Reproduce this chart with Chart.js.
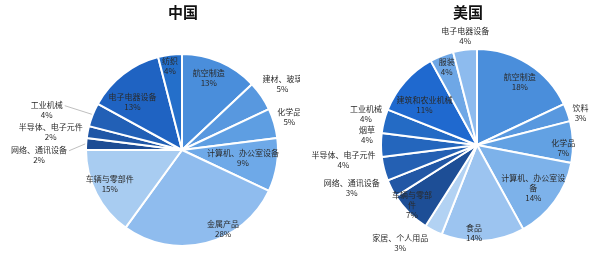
<!DOCTYPE html>
<html><head><meta charset="utf-8">
<script src="https://cdn.jsdelivr.net/npm/chart.js@4.4.0/dist/chart.umd.min.js"></script>
<style>
html,body{margin:0;padding:0;background:#fff;width:600px;height:256px;overflow:hidden;}
canvas{position:absolute;top:0;}
#c1{left:0;} #c2{left:300px;}
</style></head><body>
<canvas id="c1" width="300" height="256"></canvas>
<canvas id="c2" width="300" height="256"></canvas>
<script>
// ---- data ----
const cnTitle = "中国";
const cnCategories = ["航空制造","建材、玻璃","化学品","计算机、办公室设备","金属产品","车辆与零部件","网络、通讯设备","半导体、电子元件","工业机械","电子电器设备","纺织"];
const cnValues = [13,5,5,9,28,15,2,2,4,13,4];

const usTitle = "美国";
const usCategories = ["航空制造","饮料","化学品","计算机、办公室设备","食品","家居、个人用品","车辆与零部件","网络、通讯设备","半导体、电子元件","烟草","工业机械","建筑和农业机械","服装","电子电器设备"];
const usValues = [18,3,7,14,14,3,7,3,4,4,4,11,4,4];

// ---- styles / layout (not data) ----
const cnColors = ["#4a8edb","#5898df","#5e9ee2","#6ea9e8","#8fbcee","#a8ccf1","#1d4c94","#1f56a6","#2260b6","#1f63c2","#246fca"];
const usColors = ["#4a8edb","#5898df","#62a1e3","#7db2ea","#9cc4f0","#b2d2f3","#1d4e96","#2257a5","#2460b3","#2466bd","#246bc5","#1f69cf","#6ea7e6","#8dbbee"];
// [angle offset (deg), radius factor, chars per line, leader line]
const cnLabelPos = [[-3,0.80,0,0],[1,1.25,0,0],[-1,1.17,0,0],[-1.5,0.64,0,0],[-13,0.93,0,0],[2,0.83,0,0],[-5.5,1.49,0,1],[-3,1.38,0,0],[-5,1.47,0,1],[-8,0.72,0,0],[-1,0.88,0,0]];
const usLabelPos = [[2,0.79,0,0],[2.5,1.13,0,0],[4,0.9,0,0],[1.5,0.74,8,0],[5.5,0.92,0,0],[11,1.3,0,0],[2.5,0.92,5,0],[8,1.38,0,0],[8,1.4,0,0],[5,1.15,0,0],[1,1.2,0,0],[-4,0.69,0,0],[0.3,0.87,0,0],[1,1.14,0,0]];

const FONT = '"Noto Sans CJK SC","Noto Sans",sans-serif';

function labelPlugin(cats, pos, title, titleX){
  return {
    id:'lbl',
    afterDatasetsDraw(chart){
      const ctx = chart.ctx;
      const meta = chart.getDatasetMeta(0);
      const vals = chart.data.datasets[0].data;
      ctx.save();
      ctx.font = 'bold 15px ' + FONT;
      ctx.fillStyle = '#111';
      ctx.textAlign = 'center'; ctx.textBaseline = 'middle';
      ctx.fillText(title, titleX, 12);
      ctx.font = '8px ' + FONT;
      meta.data.forEach((arc, i) => {
        const p = arc.getProps(['x','y','startAngle','endAngle','outerRadius'], true);
        const mid = (p.startAngle + p.endAngle)/2;
        const a = mid + pos[i][0]*Math.PI/180;
        const f = pos[i][1];
        const lx = p.x + Math.cos(a)*p.outerRadius*f;
        const ly = p.y + Math.sin(a)*p.outerRadius*f;
        let lines = [cats[i]];
        const n = pos[i][2];
        if (n) { lines = []; for (let k=0;k<cats[i].length;k+=n) lines.push(cats[i].slice(k,k+n)); }
        lines.push(vals[i] + '%');
        const lh = 10;
        const top = ly - (lines.length-1)*lh/2;
        if (pos[i][3]) {
          const w = Math.max(...lines.map(t=>ctx.measureText(t).width));
          const ex = p.x + Math.cos(mid)*(p.outerRadius+1);
          const ey = p.y + Math.sin(mid)*(p.outerRadius+1);
          const tx = lx < p.x ? lx + w/2 + 2 : lx - w/2 - 2;
          const ty = top + 1;
          ctx.strokeStyle = '#b8b8b8'; ctx.lineWidth = 0.9;
          ctx.beginPath(); ctx.moveTo(tx, ty); ctx.lineTo(ex, ey); ctx.stroke();
        }
        ctx.fillStyle = '#2a2a2a';
        lines.forEach((t, k) => ctx.fillText(t, lx, top + k*lh));
      });
      ctx.restore();
    }
  };
}

function makePie(id, cats, vals, colors, pos, title, titleX, pad){
  new Chart(document.getElementById(id), {
    type:'pie',
    data:{ labels:cats, datasets:[{ data:vals, backgroundColor:colors, borderColor:'#ffffff', borderWidth:2 }]},
    options:{
      responsive:false, animation:false, devicePixelRatio:1,
      layout:{ padding:pad },
      plugins:{ legend:{display:false}, tooltip:{enabled:false}, title:{display:false} }
    },
    plugins:[labelPlugin(cats, pos, title, titleX)]
  });
}

makePie('c1', cnCategories, cnValues, cnColors, cnLabelPos, cnTitle, 183, {left:85, right:21, top:53, bottom:9});
makePie('c2', usCategories, usValues, usColors, usLabelPos, usTitle, 168, {left:80, right:26, top:48, bottom:14});
</script>
</body></html>
